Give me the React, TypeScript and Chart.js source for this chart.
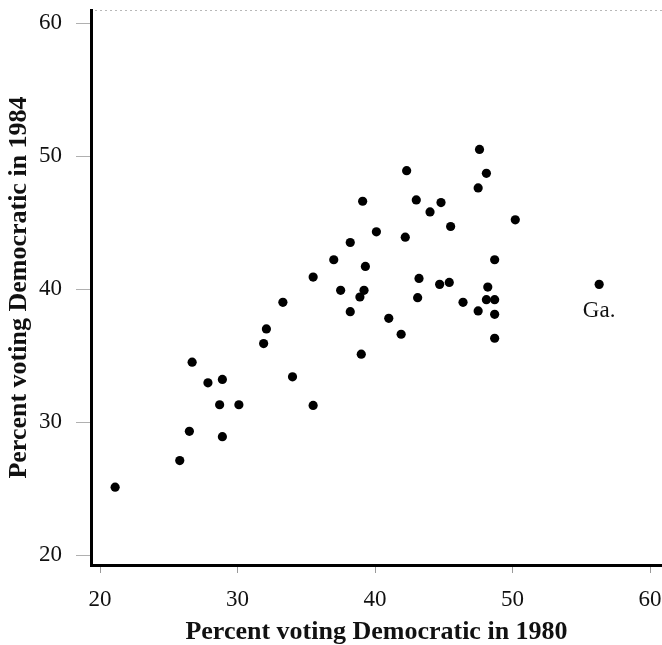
import React, { useEffect, useRef } from "react";
import { Chart, registerables } from "chart.js";

Chart.register(...registerables);

// Percent voting Democratic, by state (last entry is Georgia)
const vote1980 = [
  47.6, 42.3, 48.1, 47.5, 39.1, 43.0, 44.8, 44.0, 50.2, 45.5,
  40.1, 42.2, 38.2, 37.0, 39.3, 48.7, 35.5, 43.2, 44.7, 45.4,
  48.2, 37.5, 39.2, 38.9, 43.1, 46.4, 48.1, 48.7, 38.2, 47.5,
  48.7, 41.0, 41.9, 48.7, 39.0, 33.3, 32.1, 31.9, 26.7, 27.85,
  28.9, 34.0, 28.7, 30.1, 35.5, 26.5, 28.9, 25.8, 21.1, 56.3,
];
const vote1984 = [
  50.5, 48.9, 48.7, 47.6, 46.6, 46.7, 46.5, 45.8, 45.2, 44.7,
  44.3, 43.9, 43.5, 42.2, 41.7, 42.2, 40.9, 40.8, 40.35, 40.5,
  40.15, 39.9, 39.9, 39.4, 39.35, 39.0, 39.2, 39.2, 38.3, 38.35,
  38.1, 37.8, 36.6, 36.3, 35.1, 39.0, 37.0, 35.9, 34.5, 32.95,
  33.2, 33.4, 31.3, 31.3, 31.25, 29.3, 28.9, 27.1, 25.1, 40.35,
];
const pointLabels = vote1980.map((_, i) => (i === vote1980.length - 1 ? "Ga." : ""));

const xTicks = [20, 30, 40, 50, 60];
const yTicks = [20, 30, 40, 50, 60];
const xTitle = "Percent voting Democratic in 1980";
const yTitle = "Percent voting Democratic in 1984";

const SERIF = '"Liberation Serif", "Times New Roman", serif';

const decorPlugin = {
  id: "decor",
  beforeDatasetsDraw(chart: any) {
    const { ctx, chartArea } = chart;
    ctx.save();
    ctx.strokeStyle = "#b8b8b8";
    ctx.lineWidth = 1;
    ctx.setLineDash([2, 3]);
    ctx.beginPath();
    ctx.moveTo(chartArea.left + 4, chartArea.top + 0.5);
    ctx.lineTo(chartArea.right, chartArea.top + 0.5);
    ctx.stroke();
    ctx.restore();
  },
  afterDatasetsDraw(chart: any) {
    const { ctx } = chart;
    const meta = chart.getDatasetMeta(0);
    ctx.save();
    ctx.fillStyle = "#111";
    ctx.font = `23px ${SERIF}`;
    ctx.textAlign = "center";
    ctx.textBaseline = "middle";
    pointLabels.forEach((txt, i) => {
      if (!txt) return;
      const el = meta.data[i];
      ctx.fillText(txt, el.x, el.y + 27);
    });
    ctx.restore();
  },
};

export default function App() {
  const ref = useRef<HTMLCanvasElement | null>(null);

  useEffect(() => {
    if (!ref.current) return;
    const chart = new Chart(ref.current, {
      type: "scatter",
      data: {
        datasets: [
          {
            data: vote1980.map((x, i) => ({ x, y: vote1984[i] })),
            backgroundColor: "#000",
            borderColor: "#000",
            pointRadius: 4.6,
            pointHoverRadius: 4.6,
            borderWidth: 0,
          },
        ],
      },
      options: {
        animation: false,
        responsive: false,
        devicePixelRatio: 1,
        layout: { autoPadding: false, padding: { top: 10, left: 0, right: 0, bottom: 0 } },
        plugins: {
          legend: { display: false },
          tooltip: { enabled: false },
        },
        scales: {
          x: {
            type: "linear",
            min: 19.345,
            max: 60.87,
            afterBuildTicks: (s: any) => {
              s.ticks = xTicks.map((v) => ({ value: v }));
            },
            afterFit: (s: any) => {
              s.height = 80;
              s.paddingLeft = 0;
              s.paddingRight = 0;
            },
            grid: {
              drawOnChartArea: false,
              drawTicks: true,
              tickLength: 8,
              tickColor: "#9a9a9a",
              tickWidth: 1,
            },
            border: { display: true, color: "#000", width: 3 },
            ticks: {
              color: "#111",
              font: { family: SERIF, size: 23 },
              padding: 13,
              maxRotation: 0,
              autoSkip: false,
            },
            title: {
              display: true,
              text: xTitle,
              color: "#111",
              font: { family: SERIF, size: 26, weight: "bold", lineHeight: 1 },
              padding: { top: 0, bottom: 0 },
            },
          },
          y: {
            type: "linear",
            min: 19.25,
            max: 60.98,
            afterBuildTicks: (s: any) => {
              s.ticks = yTicks.map((v) => ({ value: v }));
            },
            afterFit: (s: any) => {
              s.width = 91;
              s.paddingTop = 0;
              s.paddingBottom = 0;
            },
            grid: {
              drawOnChartArea: false,
              drawTicks: true,
              tickLength: 15,
              tickColor: "#b0b0b0",
              tickWidth: 1,
            },
            border: { display: true, color: "#000", width: 3 },
            ticks: {
              color: "#111",
              font: { family: SERIF, size: 23 },
              padding: 14,
              autoSkip: false,
            },
            title: {
              display: true,
              text: yTitle,
              color: "#111",
              font: { family: SERIF, size: 26, weight: "bold", lineHeight: 1 },
              padding: { top: 6, bottom: 0 },
            },
          },
        },
      },
      plugins: [decorPlugin],
    } as any);
    return () => chart.destroy();
  }, []);

  return (
    <div style={{ position: "absolute", left: 0, top: 0, width: 662, height: 645, background: "#fff" }}>
      <canvas ref={ref} width={662} height={645} style={{ width: 662, height: 645, display: "block" }} />
    </div>
  );
}
